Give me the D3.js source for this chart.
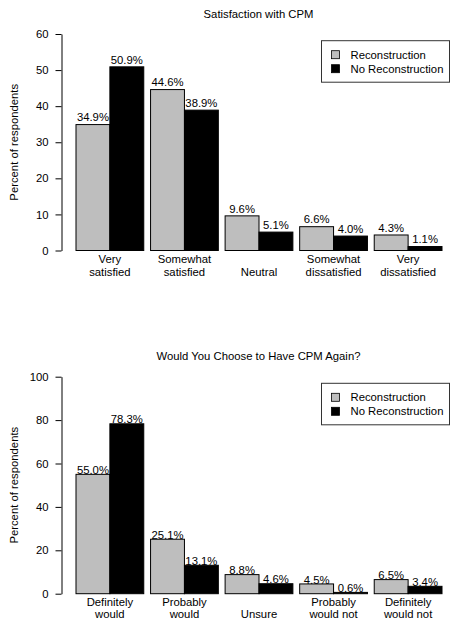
<!DOCTYPE html>
<html><head><meta charset="utf-8">
<script src="https://cdn.jsdelivr.net/npm/d3@7"></script>
<style>body{margin:0;background:#fff}svg{display:block}text{font-family:"Liberation Sans",Arial,Helvetica,sans-serif}</style>
</head><body><svg id="c" width="460" height="628"></svg>
<script>
const series = ["Reconstruction", "No Reconstruction"];
const colors = ["#BEBEBE", "#000000"];
const cats1 = [["Very","satisfied"],["Somewhat","satisfied"],["Neutral"],["Somewhat","dissatisfied"],["Very","dissatisfied"]];
const recon1 = [34.9, 44.6, 9.6, 6.6, 4.3];
const norecon1 = [50.9, 38.9, 5.1, 4.0, 1.1];
const ticks1 = [0,10,20,30,40,50,60];
const cats2 = [["Definitely","would"],["Probably","would"],["Unsure"],["Probably","would not"],["Definitely","would not"]];
const recon2 = [55.0, 25.1, 8.8, 4.5, 6.5];
const norecon2 = [78.3, 13.1, 4.6, 0.6, 3.4];
const ticks2 = [0,20,40,60,80,100];

const svg = d3.select("#c");
const FS = 11.3;

function panel(cfg){
  const g = svg.append("g");
  const y = d3.scaleLinear().domain([0, cfg.ymax]).range([cfg.y0, cfg.y1]);
  const names = cfg.cats.map(c => c.join(" "));
  const x = d3.scaleBand().domain(names).range([76, 442]).paddingInner(0.0911).paddingOuter(0);
  const xi = d3.scaleBand().domain(series).range([0, x.bandwidth()]);
  // title
  g.append("text").attr("x", 258.5).attr("y", cfg.titleY).attr("text-anchor","middle")
    .attr("dominant-baseline","central").attr("font-size", FS).text(cfg.title);
  // y axis
  const ax = g.append("g").attr("transform","translate(61.5,0)")
    .call(d3.axisLeft(y).tickValues(cfg.ticks).tickSize(6).tickSizeOuter(0).tickPadding(7));
  ax.selectAll("text").attr("font-size", FS).attr("font-family", '"Liberation Sans",Arial,sans-serif').attr("fill","#000");
  ax.selectAll("line,path").attr("stroke","#000");
  // y label
  g.append("text").attr("transform", `translate(13.5,${(cfg.y0+cfg.y1)/2}) rotate(-90)`)
    .attr("text-anchor","middle").attr("dominant-baseline","central").attr("font-size", FS).text("Percent of respondents");
  // bars
  const data = [];
  names.forEach((n,i) => {
    data.push({cat:n, s:series[0], v:cfg.a[i], c:colors[0]});
    data.push({cat:n, s:series[1], v:cfg.b[i], c:colors[1]});
  });
  g.selectAll("rect.bar").data(data).enter().append("rect").attr("class","bar")
    .attr("x", d => x(d.cat) + xi(d.s)).attr("width", xi.bandwidth())
    .attr("y", d => y(d.v)).attr("height", d => y(0) - y(d.v))
    .attr("fill", d => d.c).attr("stroke","#000").attr("stroke-width",1);
  g.selectAll("text.lab").data(data).enter().append("text").attr("class","lab")
    .attr("x", d => x(d.cat) + xi(d.s) + xi.bandwidth()/2).attr("y", d => y(d.v + 2))
    .attr("text-anchor","middle").attr("dominant-baseline","central").attr("font-size", FS)
    .text(d => d.v.toFixed(1) + "%");
  // category labels
  cfg.cats.forEach((lines, i) => {
    const cx = x(names[i]) + x.bandwidth()/2;
    lines.forEach((t, j) => {
      const yy = cfg.catY + (j - (lines.length - 1)) * 12.4;
      g.append("text").attr("x", cx).attr("y", yy).attr("text-anchor","middle")
        .attr("dominant-baseline","central").attr("font-size", FS).text(t);
    });
  });
  // legend
  const L = g.append("g");
  L.append("rect").attr("x", 321.5).attr("y", cfg.legY).attr("width", 128).attr("height", 41.5)
    .attr("fill","#fff").attr("stroke","#333").attr("stroke-width",1);
  series.forEach((s, i) => {
    const cy = cfg.legY + 14 + i*14;
    L.append("rect").attr("x", 331.5).attr("y", cy - 4).attr("width", 8).attr("height", 8)
      .attr("fill", colors[i]).attr("stroke","#000").attr("stroke-width",0.8);
    L.append("text").attr("x", 350.5).attr("y", cy).attr("dominant-baseline","central")
      .attr("font-size", FS).text(s);
  });
}

panel({title:"Satisfaction with CPM", titleY:13.7, ymax:60, y0:250.5, y1:34, ticks:ticks1,
  cats:cats1, a:recon1, b:norecon1, catY:271.7, legY:40.7});
panel({title:"Would You Choose to Have CPM Again?", titleY:356, ymax:100, y0:593.7, y1:376.7, ticks:ticks2,
  cats:cats2, a:recon2, b:norecon2, catY:614.3, legY:383.3});
</script></body></html>
